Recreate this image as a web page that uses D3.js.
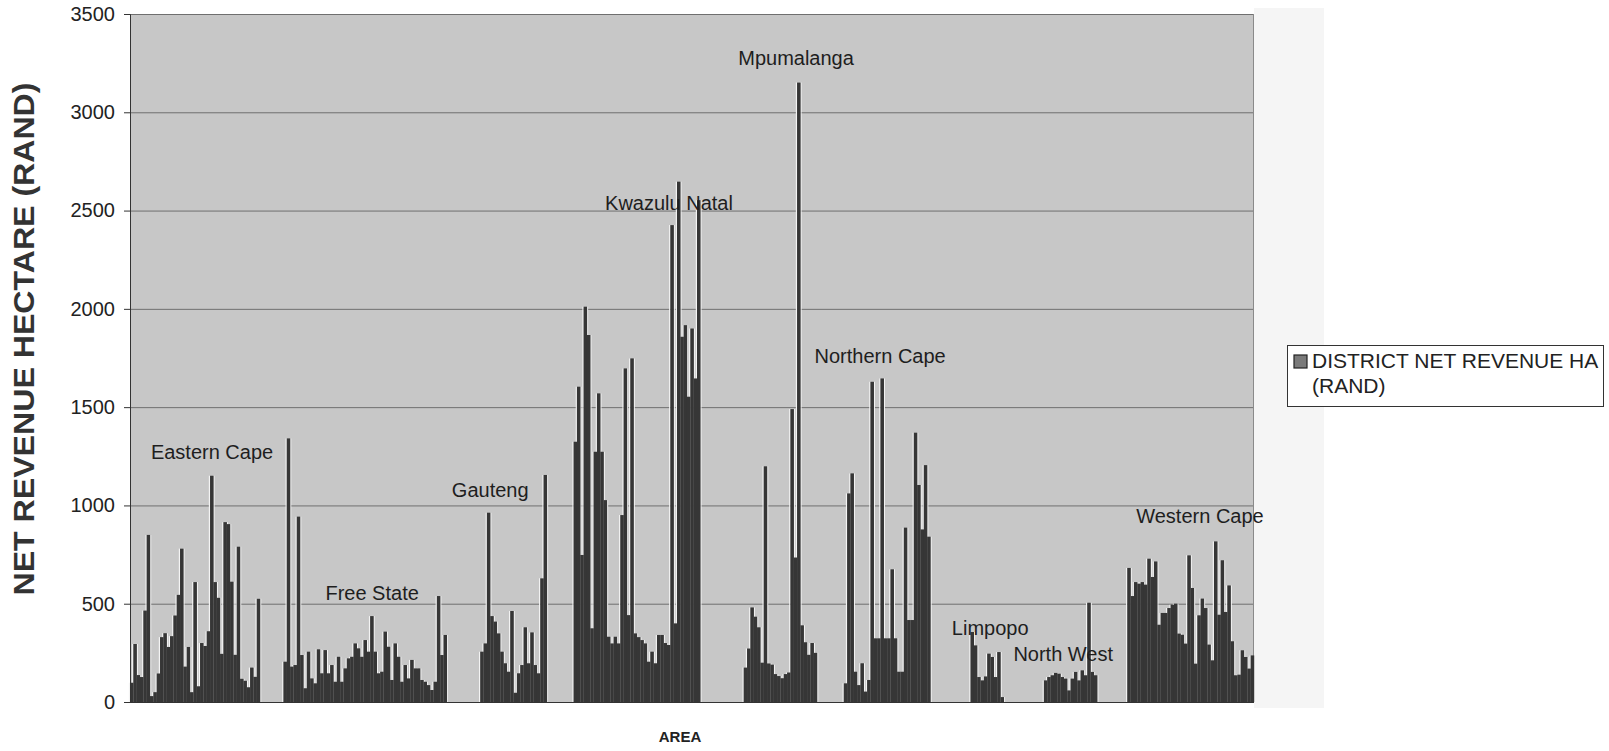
<!DOCTYPE html>
<html>
<head>
<meta charset="utf-8">
<script src="https://cdn.jsdelivr.net/npm/d3@7"></script>
<style>
  body { margin: 0; background: #fff; }
  svg { font-family: "Liberation Sans", Arial, sans-serif; }
</style>
</head>
<body>
<div id="rev_graph"></div>
<script>
// provinces, in the order they appear on the x axis
var provinces = ["Eastern Cape", "Free State", "Gauteng", "Kwazulu Natal", "Mpumalanga",
                 "Northern Cape", "Limpopo", "North West", "Western Cape"];

// empty spreadsheet rows before each province
var blankRows = [0, 7, 10, 8, 13, 8, 12, 12, 9];

// district net revenue per hectare (rand)
var easternCape = [98, 295, 137, 127, 465, 850, 30, 50, 145, 330, 350, 280, 335, 440, 545, 780, 180, 280, 50, 610,
                   80, 300, 285, 360, 1151, 610, 530, 245, 915, 905, 612, 240, 790, 118, 108, 75, 175, 128, 525];
var freeState = [205, 1341, 180, 188, 943, 239, 70, 256, 120, 95, 268, 146, 264, 146, 188, 103, 230, 103, 171, 222,
                 230, 298, 273, 230, 315, 256, 437, 256, 146, 154, 358, 281, 112, 298, 230, 103, 188, 120, 214, 171,
                 171, 112, 103, 86, 61, 103, 539, 239, 341];
var gauteng = [256, 298, 963, 437, 409, 349, 256, 197, 154, 463, 47, 146, 188, 380, 197, 354, 188, 146, 629, 1155];
var kwazuluNatal = [1324, 1604, 748, 2011, 1867, 375, 1273, 1570, 1273, 1027, 332, 298, 332, 298, 951, 1697, 442, 1748, 349, 330,
                    315, 298, 205, 256, 197, 341, 341, 300, 290, 2426, 400, 2647, 1858, 1917, 1553, 1900, 1646, 2553];
var mpumalanga = [175, 272, 481, 434, 380, 200, 1199, 196, 190, 142, 132, 121, 142, 150, 1490, 735, 3151, 390, 304, 240, 300, 250];
var northernCape = [95, 1061, 1163, 154, 86, 197, 53, 112, 1629, 324, 324, 1646, 324, 324, 675, 324, 154, 154, 887, 417,
                    417, 1370, 1104, 878, 1205, 841];
var limpopo = [356, 288, 127, 110, 130, 246, 229, 127, 254, 25];
var northWest = [110, 127, 136, 148, 144, 127, 119, 59, 119, 153, 110, 161, 136, 505, 153, 136];
var westernCape = [682, 539, 610, 602, 610, 597, 729, 636, 715, 393, 453, 453, 478, 495, 500, 348, 342, 297, 746, 580,
                   195, 441, 526, 478, 292, 212, 817, 444, 721, 458, 593, 309, 136, 139, 263, 229, 170, 237];

var yTicks = [0, 500, 1000, 1500, 2000, 2500, 3000, 3500];

var series = [easternCape, freeState, gauteng, kwazuluNatal, mpumalanga, northernCape, limpopo, northWest, westernCape];

// flatten into one row per category slot (blank rows have no value)
var rows = [];
series.forEach(function(vals, p) {
    for (var b = 0; b < blankRows[p]; b++) rows.push({province: null, value: null});
    vals.forEach(function(v) { rows.push({province: provinces[p], value: v}); });
});
rows.forEach(function(d, i) { d.slot = i; });

// label anchors: [slot, value] in chart units
var labelAt = [[24.6, 1272], [72.6, 554], [108, 1078], [161.6, 2538], [199.7, 3276],
               [224.9, 1760], [257.9, 376], [279.8, 244], [320.8, 946]];

var margin = {top: 14, right: 355, bottom: 49, left: 130},
    width = 1609 - margin.left - margin.right,
    height = 751 - margin.top - margin.bottom;

var x = d3.scaleBand().domain(rows.map(function(d) { return d.slot; })).range([0, width]).padding(0);
var y = d3.scaleLinear().domain([0, 3500]).range([height, 0]);

var svg = d3.select("#rev_graph")
    .append("svg")
    .attr("width", 1609)
    .attr("height", 751);

// pale strip right of the plot (chart area)
svg.append("rect")
    .attr("x", margin.left + width).attr("y", 8)
    .attr("width", 70).attr("height", 700)
    .attr("fill", "#f5f5f5");

var g = svg.append("g")
    .attr("transform", "translate(" + margin.left + "," + margin.top + ")");

g.append("rect")
    .attr("width", width).attr("height", height)
    .attr("fill", "#c7c7c7");

// gridlines
g.selectAll(".grid")
    .data(yTicks.filter(function(t) { return t > 0; }))
    .enter().append("line")
    .attr("x1", 0).attr("x2", width)
    .attr("y1", function(d) { return y(d) + 0.5; })
    .attr("y2", function(d) { return y(d) + 0.5; })
    .attr("stroke", "#6f6f6f")
    .attr("stroke-width", 1);

g.append("line")
    .attr("x1", width - 0.5).attr("x2", width - 0.5)
    .attr("y1", 0).attr("y2", height)
    .attr("stroke", "#8a8a8a");

var filled = rows.filter(function(d) { return d.value !== null; });

// light halo on bar sides (scan look)
var halo = g.append("g");
filled.forEach(function(d) {
    [x(d.slot) - 0.6, x(d.slot) + x.bandwidth() + 0.6].forEach(function(xx) {
        halo.append("line")
            .attr("x1", xx).attr("x2", xx)
            .attr("y1", y(d.value)).attr("y2", height)
            .attr("stroke", "#f4f4f4")
            .attr("stroke-width", 1.2);
    });
});

g.selectAll(".bar")
    .data(filled)
    .enter().append("rect")
    .attr("class", "bar")
    .attr("x", function(d) { return x(d.slot); })
    .attr("y", function(d) { return y(d.value); })
    .attr("width", x.bandwidth() + 0.2)
    .attr("height", function(d) { return height - y(d.value); })
    .attr("fill", "#363636");

// province names
g.selectAll(".prov")
    .data(provinces)
    .enter().append("text")
    .attr("x", function(d, i) { return labelAt[i][0] * x.step(); })
    .attr("y", function(d, i) { return y(labelAt[i][1]); })
    .attr("dy", "0.35em")
    .attr("text-anchor", "middle")
    .attr("font-size", 20)
    .attr("fill", "#1e1e1e")
    .text(function(d) { return d; });

// Add the Y Axis
var yAxis = d3.axisLeft(y).tickValues(yTicks).tickFormat(d3.format("d")).tickSize(6).tickPadding(9);
var ya = g.append("g").attr("class", "y axis").call(yAxis);
ya.select(".domain").attr("stroke", "#333");
ya.selectAll(".tick line").attr("stroke", "#333");
ya.selectAll("text").attr("font-size", 20).attr("fill", "#222")
    .attr("font-family", "Liberation Sans, Arial, sans-serif");

// x axis base line
g.append("line")
    .attr("x1", 0).attr("x2", width)
    .attr("y1", height + 0.5).attr("y2", height + 0.5)
    .attr("stroke", "#333");

svg.append("text")
    .attr("transform", "translate(34,339) rotate(-90)")
    .attr("text-anchor", "middle")
    .attr("font-weight", "bold")
    .attr("font-size", 30)
    .attr("textLength", 513)
    .attr("lengthAdjust", "spacingAndGlyphs")
    .attr("fill", "#333")
    .text("NET REVENUE HECTARE (RAND)");

svg.append("text")
    .attr("x", 680).attr("y", 742)
    .attr("text-anchor", "middle")
    .attr("font-weight", "bold")
    .attr("font-size", 15)
    .attr("fill", "#222")
    .text("AREA");

// legend
var legend = svg.append("g");
legend.append("rect")
    .attr("x", 1287.5).attr("y", 345.5)
    .attr("width", 316).attr("height", 61)
    .attr("fill", "#fff").attr("stroke", "#333");
legend.append("rect")
    .attr("x", 1294).attr("y", 355)
    .attr("width", 13).attr("height", 13)
    .attr("fill", "#7a7a7a").attr("stroke", "#222").attr("stroke-width", 1.2);
legend.append("text")
    .attr("x", 1312).attr("y", 368)
    .attr("font-size", 21).attr("fill", "#222")
    .text("DISTRICT NET REVENUE HA");
legend.append("text")
    .attr("x", 1312).attr("y", 393)
    .attr("font-size", 21).attr("fill", "#222")
    .text("(RAND)");
</script>
</body>
</html>
